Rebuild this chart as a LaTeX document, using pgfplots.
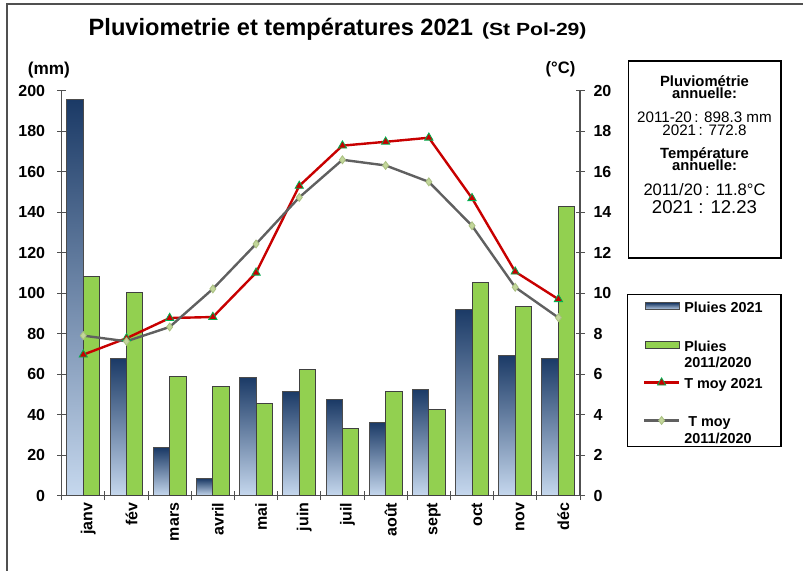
\documentclass[border=0pt]{standalone}
\usepackage{fontspec}
\setmainfont{Liberation Sans}
\newfontfamily\widefont{Liberation Sans}[FakeStretch=1.2]
\usepackage{pgfplots}
\pgfplotsset{compat=1.18}

\definecolor{navy}{HTML}{1B3A66}
\definecolor{lightblue}{HTML}{C6D8EE}
\definecolor{vert}{HTML}{92D050}
\definecolor{rouge}{HTML}{C80000}
\definecolor{vertfonce}{HTML}{00B050}
\definecolor{gris}{HTML}{606060}
\definecolor{vertclair}{HTML}{C3D69B}
\definecolor{vertclairb}{HTML}{A9C080}
\definecolor{axe}{HTML}{505050}

\pgfplotsset{
  barleg/.style={legend image code/.code={\draw[##1] (1pt,3.8pt) rectangle (18pt,7.2pt);}},
  lineleg/.style={legend image code/.code={\draw[mark repeat=2,mark phase=2,##1] plot coordinates {(0.5pt,5.5pt) (9.25pt,5.5pt) (18pt,5.5pt)};}},
  bluebar/.style={ybar, bar width=0.38, bar shift=-0.19, top color=navy, bottom color=lightblue, draw=black!70, line width=0.5pt, forget plot},
}

\pgfplotstableread{
x p2021 pavg t2021 tavg
0 195.6 108.4 6.97 7.91
1 67.9 100.3 7.78 7.63
2 23.6 59.0 8.78 8.34
3 8.4 54.1 8.83 10.22
4 58.5 45.5 11.02 12.44
5 51.6 62.5 15.31 14.74
6 47.3 33.0 17.30 16.60
7 36.3 51.6 17.49 16.32
8 52.6 42.8 17.69 15.51
9 92.1 105.3 14.70 13.34
10 69.5 93.3 11.07 10.30
11 67.9 143.0 9.71 8.80
}\datatable

\begin{document}
\begin{tikzpicture}
\begin{scope}[x=0.5pt,y=-0.5pt]
\path[use as bounding box] (0,0) rectangle (803,571);
\draw[axe,line width=0.6pt] (7,571) -- (7,4) -- (803,4);
\node[anchor=base west,inner sep=0pt,font=\bfseries\fontsize{11.8}{14}\selectfont] at (88.3,35.3) {Pluviometrie et températures 2021};
\node[anchor=base west,inner sep=0pt,font=\widefont\bfseries\fontsize{8.8}{10}\selectfont] at (481.7,35.3) {(St Pol-29)};
\node[font=\bfseries\fontsize{8.6}{9}\selectfont,inner sep=0pt] at (48.8,70) {(mm)};
\node[font=\bfseries\fontsize{8.3}{9}\selectfont,inner sep=0pt] at (560.5,69) {(°C)};
% info box
\draw[black,line width=0.6pt] (628.3,61) rectangle (781,258);
\begin{scope}[every node/.style={anchor=base,inner sep=0pt}]
\node[font=\bfseries\fontsize{7.4}{8}\selectfont] at (704.5,86.5) {Pluviométrie};
\node[font=\bfseries\fontsize{7.4}{8}\selectfont] at (704.5,98.8) {annuelle:};
\node[font=\fontsize{7.6}{8}\selectfont] at (704.5,123) {2011-20\,: 898.3 mm};
\node[font=\fontsize{7.6}{8}\selectfont] at (704.5,136) {2021\,: 772.8};
\node[font=\bfseries\fontsize{7.4}{8}\selectfont] at (704.5,158.3) {Température};
\node[font=\bfseries\fontsize{7.4}{8}\selectfont] at (704.5,170.8) {annuelle:};
\node[font=\fontsize{8.3}{9}\selectfont] at (704.5,196) {2011/20\,: 11.8°C};
\node[font=\fontsize{9.3}{10}\selectfont] at (704.5,214) {2021 : 12.23};
\end{scope}
% legend frame
\draw[black,line width=0.6pt] (627.3,294.3) rectangle (781,446.7);
\end{scope}

\begin{axis}[
  at={(30.85pt,-247.85pt)}, anchor=south west,
  scale only axis, width=259.15pt, height=202.35pt,
  xmin=-0.5, xmax=11.5, ymin=0, ymax=200,
  axis x line*=bottom, axis y line*=left,
  axis line style={draw=axe, line width=0.6pt},
  ytick={0,20,...,200},
  xtick={-0.5,0.5,...,11.5}, xticklabels={},
  extra x ticks={0,1,2,3,4,5,6,7,8,9,10,11},
  extra x tick labels={janv,fév,mars,avril,mai,juin,juil,août,sept,oct,nov,déc},
  extra x tick style={major tick length=0pt, tick label style={rotate=90, anchor=east, yshift=-2.5pt}},
  tick align=center, major tick length=4.5pt,
  tick style={draw=axe, line width=0.5pt},
  tick label style={font=\bfseries\fontsize{8}{9.6}\selectfont},
  /pgf/number format/assume math mode=true,
  yticklabel style={xshift=-2.5pt},
  clip=false,
]
\addplot[bluebar] coordinates {(0,195.6)};
\addplot[bluebar] coordinates {(1,67.9)};
\addplot[bluebar] coordinates {(2,23.6)};
\addplot[bluebar] coordinates {(3,8.4)};
\addplot[bluebar] coordinates {(4,58.5)};
\addplot[bluebar] coordinates {(5,51.6)};
\addplot[bluebar] coordinates {(6,47.3)};
\addplot[bluebar] coordinates {(7,36.3)};
\addplot[bluebar] coordinates {(8,52.6)};
\addplot[bluebar] coordinates {(9,92.1)};
\addplot[bluebar] coordinates {(10,69.5)};
\addplot[bluebar] coordinates {(11,67.9)};
\addplot[ybar, bar width=0.38, bar shift=0.19, fill=vert, draw=black!75, line width=0.5pt]
  table[x=x,y=pavg]{\datatable};
\end{axis}

\begin{axis}[
  at={(30.85pt,-247.85pt)}, anchor=south west,
  scale only axis, width=259.15pt, height=202.35pt,
  xmin=-0.5, xmax=11.5, ymin=0, ymax=20,
  axis y line*=right, axis x line=none,
  axis line style={draw=axe, line width=0.6pt},
  ytick={0,2,...,20},
  tick align=center, major tick length=4.5pt,
  tick style={draw=axe, line width=0.5pt},
  tick label style={font=\bfseries\fontsize{8}{9.6}\selectfont},
  /pgf/number format/assume math mode=true,
  yticklabel style={xshift=1pt},
  clip=false,
  legend style={at={(1.1206,0.4886)}, anchor=north west, draw=none, fill=none,
    inner sep=0pt, row sep=0.1pt, column sep=0pt,
    nodes={align=left, font=\bfseries\fontsize{7.2}{8.3}\selectfont}},
  legend cell align=left,
]
\addlegendimage{top color=navy, bottom color=lightblue, draw=black!70, line width=0.5pt, barleg}
\addlegendentry{Pluies 2021\\\strut}
\addlegendimage{fill=vert, draw=black!75, line width=0.5pt, barleg}
\addlegendentry{Pluies\\2011/2020}
\addplot[color=rouge, line width=1.2pt, mark=triangle*, mark size=2.4pt,
  mark options={fill=rouge, draw=vertfonce, line width=0.4pt}, lineleg]
  table[x=x,y=t2021]{\datatable};
\addlegendentry{T moy 2021\\\strut}
\addplot[color=gris, line width=1.2pt, mark=diamond*, mark size=2pt,
  mark options={fill=vertclair, draw=vertclairb, line width=0.4pt}, lineleg]
  table[x=x,y=tavg]{\datatable};
\addlegendentry{\ T moy\\2011/2020}
\end{axis}
\end{tikzpicture}
\end{document}
